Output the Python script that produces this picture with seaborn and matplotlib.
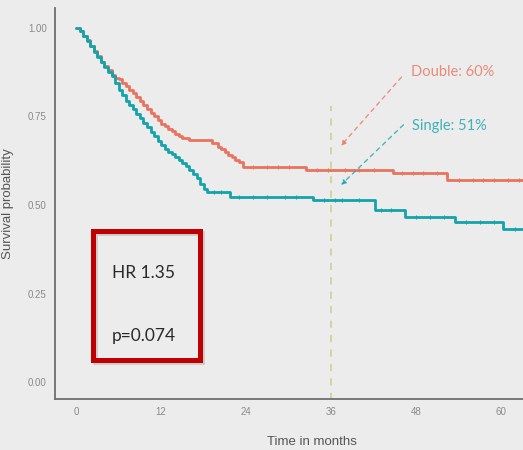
import numpy as np
import pandas as pd
import matplotlib
matplotlib.use("Agg")
import matplotlib.pyplot as plt
import seaborn as sns
from matplotlib.patches import Rectangle

# --- data (Kaplan-Meier steps) ---
double_t = [0, 0.5, 1, 1.5, 2, 2.5, 3, 3.5, 4, 4.5, 5, 5.5, 6, 6.5, 7, 7.5, 8, 8.5,
            9, 9.5, 10, 10.5, 11, 11.5, 12, 12.5, 13, 13.5, 14, 14.5, 15, 15.5, 16,
            19.2, 20, 20.5, 21, 21.5, 22, 22.5, 23, 23.6, 32.5, 44.8, 52.4, 64]
double_s = [1.000, 0.990, 0.978, 0.965, 0.950, 0.935, 0.920, 0.905, 0.893, 0.880,
            0.868, 0.860, 0.855, 0.845, 0.835, 0.825, 0.815, 0.805, 0.795, 0.783,
            0.770, 0.760, 0.750, 0.740, 0.730, 0.722, 0.715, 0.708, 0.700, 0.695,
            0.690, 0.688, 0.685, 0.675, 0.665, 0.658, 0.650, 0.642, 0.635, 0.628,
            0.622, 0.607, 0.600, 0.590, 0.570, 0.570]

single_t = [0, 0.5, 1, 1.5, 2, 2.5, 3, 3.5, 4, 4.5, 5, 5.5, 6, 6.5, 7, 7.5, 8, 8.5,
            9, 9.5, 10, 10.5, 11, 11.5, 12, 12.5, 13, 13.5, 14, 14.5, 15, 15.5, 16,
            16.5, 17, 17.5, 18, 18.5, 21.7, 33.5, 42.2, 46.5, 53.5, 60.3, 64]
single_s = [1.000, 0.990, 0.977, 0.963, 0.948, 0.933, 0.918, 0.903, 0.889, 0.876,
            0.863, 0.845, 0.825, 0.810, 0.795, 0.782, 0.770, 0.757, 0.745, 0.732,
            0.720, 0.707, 0.695, 0.682, 0.670, 0.658, 0.650, 0.643, 0.636, 0.628,
            0.620, 0.610, 0.600, 0.588, 0.575, 0.560, 0.545, 0.537, 0.523, 0.514,
            0.486, 0.466, 0.452, 0.432, 0.432]

# censoring ticks (months)
double_cens = [25, 27, 28.5, 30, 34, 35.5, 38, 40, 42, 46, 47.5, 49, 51, 54, 56, 57.5, 59, 61, 62.5]
single_cens = [19.5, 20.5, 23, 25, 27, 29.5, 31, 35, 36.5, 37.5, 40, 43, 44.5, 48, 50, 52, 55, 57, 59, 62]

groups = ["Double", "Single"]
labels = ["Double: 60%", "Single: 51%"]
x_ticks = [0, 12, 24, 36, 48, 60]
y_ticks = [0.00, 0.25, 0.50, 0.75, 1.00]
hr_text = "HR 1.35"
p_text = "p=0.074"

colors = {"Double": "#E8735F", "Single": "#14A3AA"}
bg = "#ECECEC"

df = pd.concat([
    pd.DataFrame({"time": double_t, "surv": double_s, "group": "Double"}),
    pd.DataFrame({"time": single_t, "surv": single_s, "group": "Single"}),
])


def step_at(ts, ss, x):
    i = np.searchsorted(ts, x, side="right") - 1
    return np.asarray(ss)[i]


cens = pd.concat([
    pd.DataFrame({"time": double_cens, "surv": step_at(double_t, double_s, double_cens), "group": "Double"}),
    pd.DataFrame({"time": single_cens, "surv": step_at(single_t, single_s, single_cens), "group": "Single"}),
])

sns.set_style("white")
plt.rcParams["font.family"] = ["Liberation Sans", "DejaVu Sans"]

fig = plt.figure(figsize=(5.23, 4.5), dpi=100, facecolor=bg)
ax = fig.add_axes([0.105, 0.113, 0.895, 0.869])
ax.set_facecolor(bg)

sns.lineplot(data=df, x="time", y="surv", hue="group", palette=colors,
             estimator=None, sort=False, drawstyle="steps-post", lw=2.0,
             legend=False, ax=ax)
sns.scatterplot(data=cens, x="time", y="surv", hue="group", palette=colors,
                marker="|", s=8, linewidth=0.8, legend=False, ax=ax)

# 36-month landmark
ax.vlines(36, -0.05, 0.78, colors="#D2D29A", linestyles=(0, (4, 4)), lw=1.3, zorder=0)

ax.set_xlim(-3, 63.1)
ax.set_ylim(-0.048, 1.056)
ax.set_xticks(x_ticks)
ax.set_yticks(y_ticks)
ax.set_yticklabels([f"{v:.2f}" for v in y_ticks])
ax.tick_params(axis="both", labelsize=7, labelcolor="#8A8A8A", colors="#555555",
               length=3, width=0.8, pad=3)

for side in ["top", "right"]:
    ax.spines[side].set_visible(False)
for side in ["left", "bottom"]:
    ax.spines[side].set_color("#6E6E6E")
    ax.spines[side].set_linewidth(1.3)

ax.set_xlabel("Time in months", fontsize=9.5, color="#555555")
ax.set_ylabel("Survival probability", fontsize=9.5, color="#555555")
ax.xaxis.set_label_coords(0.549, -0.095)
ax.yaxis.set_label_coords(-0.088, 0.5)

# annotations for the 36-month survival
arrow_pos = [((46.2, 0.867), (37.1, 0.661)), ((46.5, 0.732), (37.1, 0.551))]
text_pos = [(47.3, 0.876), (47.4, 0.723)]
for g, lab, (tail, head), tp in zip(groups, labels, arrow_pos, text_pos):
    ax.annotate("", xy=head, xytext=tail,
                arrowprops=dict(arrowstyle="-|>", color=colors[g], lw=1.0,
                                linestyle=(0, (3, 3)), mutation_scale=7, alpha=0.75))
    ax.text(tp[0], tp[1], lab, color=colors[g], fontsize=10.5, va="center",
            ha="left", family=["Lato", "DejaVu Sans"], alpha=0.8)

# red box with HR / p value
shadow = Rectangle((0.182, 0.195), 0.205, 0.287, transform=fig.transFigure,
                   fill=False, ec="#AAAAAA", lw=3.5, alpha=0.5)
box = Rectangle((0.178, 0.2), 0.205, 0.287, transform=fig.transFigure,
                fill=False, ec="#C00000", lw=3.6)
fig.patches.extend([shadow, box])
fig.text(0.214, 1 - 273 / 450, hr_text, fontsize=12.5, color="#2A2A2A", va="center",
         family=["Lato", "DejaVu Sans"])
fig.text(0.214, 1 - 336 / 450, p_text, fontsize=12.5, color="#2A2A2A", va="center",
         family=["Lato", "DejaVu Sans"])

fig.savefig("out.png", dpi=100, facecolor=bg)
